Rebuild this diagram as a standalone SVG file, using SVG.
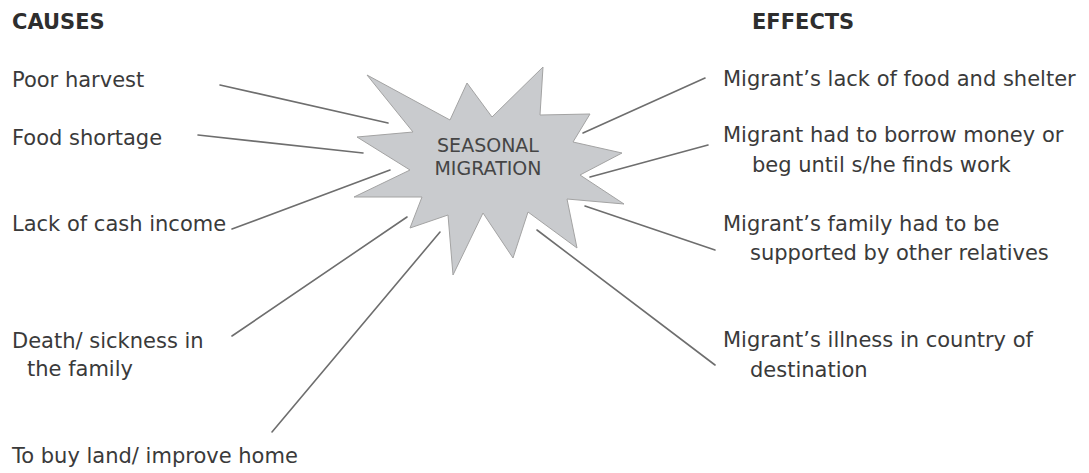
<svg xmlns="http://www.w3.org/2000/svg" width="1089" height="473" viewBox="0 0 1089 473">
<style>
.t{font-family:"DejaVu Sans",Verdana,sans-serif;font-size:21px;fill:#3a3a3a}
.h{font-family:"DejaVu Sans",Verdana,sans-serif;font-size:21px;font-weight:bold;fill:#2e2e2e}
.c{font-family:"DejaVu Sans",Verdana,sans-serif;font-size:19px;fill:#454545;text-anchor:middle}
.ln{stroke:#6e6e6e;stroke-width:1.6;fill:none;stroke-linecap:round}
</style>
<rect width="1089" height="473" fill="#ffffff"/>
<g id="connectors">
<line class="ln" x1="220" y1="85" x2="388" y2="123"/>
<line class="ln" x1="198" y1="135" x2="363" y2="153"/>
<line class="ln" x1="232" y1="229" x2="390" y2="170"/>
<line class="ln" x1="232" y1="336" x2="407" y2="217"/>
<line class="ln" x1="272" y1="432" x2="440" y2="232"/>
<line class="ln" x1="583" y1="133" x2="705" y2="78"/>
<line class="ln" x1="590" y1="177" x2="708" y2="145"/>
<line class="ln" x1="585" y1="206" x2="715" y2="250"/>
<line class="ln" x1="537" y1="230" x2="715" y2="365"/>
</g>
<g id="center">
<polygon points="367,75 450,120 467,83 492,117 543,67 540,115 590,114 573,142 622,153 580,175 624,204 567,199 577,248 528,212 513,258 483,213 453,275 448,215 410,228 422,197 354,197 410,170 357,137 413,132" fill="#c9cbce" stroke="#a3a3a3" stroke-width="1"/>
<text class="c" x="488" y="152">SEASONAL</text>
<text class="c" x="488" y="175">MIGRATION</text>
</g>
<g id="causes-header"><text class="h" x="12" y="29">CAUSES</text></g>
<g id="cause-1"><text class="t" x="12" y="87">Poor harvest</text></g>
<g id="cause-2"><text class="t" x="12" y="145">Food shortage</text></g>
<g id="cause-3"><text class="t" x="12" y="231">Lack of cash income</text></g>
<g id="cause-4"><text class="t" x="12" y="348">Death/ sickness in</text><text class="t" x="27" y="376">the family</text></g>
<g id="cause-5"><text class="t" x="12" y="463">To buy land/ improve home</text></g>
<g id="effects-header"><text class="h" x="752" y="29">EFFECTS</text></g>
<g id="effect-1"><text class="t" x="723" y="86">Migrant’s lack of food and shelter</text></g>
<g id="effect-2"><text class="t" x="723" y="142">Migrant had to borrow money or</text><text class="t" x="752" y="172">beg until s/he finds work</text></g>
<g id="effect-3"><text class="t" x="723" y="231">Migrant’s family had to be</text><text class="t" x="750" y="260">supported by other relatives</text></g>
<g id="effect-4"><text class="t" x="723" y="347">Migrant’s illness in country of</text><text class="t" x="750" y="377">destination</text></g>
</svg>
